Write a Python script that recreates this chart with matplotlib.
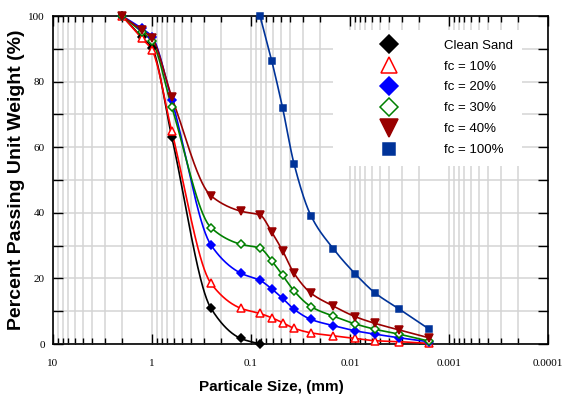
import numpy as np
import matplotlib
matplotlib.use("Agg")
import matplotlib.pyplot as plt
from matplotlib.transforms import ScaledTranslation

# sieve + hydrometer particle sizes (mm)
sizes_sieve = [2.0, 1.27, 1.0, 0.632, 0.254, 0.127, 0.081]
sizes_hydro = [0.0618, 0.0479, 0.0368, 0.0248, 0.0148, 0.0088, 0.0056, 0.0032, 0.0016]

clean_sand = [100, 93.5, 90.3, 63.2, 10.9, 1.7, 0.0]
fc10 = [100, 93.2, 89.6, 64.9, 18.5, 10.9, 9.3,
        8.0, 6.5, 4.8, 3.4, 2.5, 1.7, 1.0, 0.7, 0.2]
fc20 = [100, 96.2, 93.7, 74.4, 30.2, 21.6, 19.4,
        16.8, 13.9, 10.6, 7.5, 5.6, 4.0, 3.0, 1.9, 0.7]
fc30 = [100, 95.2, 92.3, 72.3, 35.5, 30.4, 29.2,
        25.4, 20.9, 16.2, 11.4, 8.5, 6.1, 4.5, 3.0, 0.9]
fc40 = [100, 95.7, 93.2, 75.4, 45.2, 40.5, 39.3,
        34.1, 28.4, 21.6, 15.5, 11.6, 8.3, 6.3, 4.3, 1.9]
fc100 = [100, 86.4, 71.9, 55.0, 39.1, 29.1, 21.3, 15.6, 10.7, 4.6]

labels = ["Clean Sand", "fc = 10%", "fc = 20%", "fc = 30%", "fc = 40%", "fc = 100%"]
xtick_vals = [10, 1, 0.1, 0.01, 0.001, 0.0001]
xtick_text = ["10", "1", "0.1", "0.01", "0.001", "0.0001"]
xtick_shift_px = [-4, -12, -20, -25, -34, -43]


def pchip(xk, yk, xs):
    # monotone cubic through the measured points (drawing only)
    xk = np.asarray(xk, float)
    yk = np.asarray(yk, float)
    h = np.diff(xk)
    d = np.diff(yk) / h
    m = np.zeros_like(yk)
    m[0], m[-1] = d[0], d[-1]
    for k in range(1, len(xk) - 1):
        if d[k - 1] * d[k] > 0:
            w1 = 2 * h[k] + h[k - 1]
            w2 = h[k] + 2 * h[k - 1]
            m[k] = (w1 + w2) / (w1 / d[k - 1] + w2 / d[k])
    idx = np.clip(np.searchsorted(xk, xs) - 1, 0, len(xk) - 2)
    t = (xs - xk[idx]) / h[idx]
    h00 = 2 * t**3 - 3 * t**2 + 1
    h10 = t**3 - 2 * t**2 + t
    h01 = -2 * t**3 + 3 * t**2
    h11 = t**3 - t**2
    return h00 * yk[idx] + h10 * h[idx] * m[idx] + h01 * yk[idx + 1] + h11 * h[idx] * m[idx + 1]


fig = plt.figure(figsize=(5.64, 3.99), dpi=100)
ax = fig.add_axes([53 / 564, 55 / 399, 495 / 564, 328 / 399])

all_sizes = sizes_sieve + sizes_hydro
series = [
    (sizes_sieve, clean_sand, "black", "D", "black", 4.5),
    (all_sizes, fc10, "#ff0000", "^", "white", 5.5),
    (all_sizes, fc20, "#0000ff", "D", "#0000ff", 4.5),
    (all_sizes, fc30, "#008000", "D", "white", 4.5),
    (all_sizes, fc40, "#990000", "v", "#990000", 6),
    ([0.081] + sizes_hydro, fc100, "#003399", "s", "#003399", 4.3),
]

for (xs, ys, col, mk, fc, ms), lab in zip(series, labels):
    u = -np.log10(xs)
    uu = np.linspace(u[0], u[-1], 300)
    ax.plot(10 ** (-uu), pchip(u, ys, uu), color=col, lw=1.2, clip_on=False, zorder=3)
    ax.plot(xs, ys, ls="none", marker=mk, ms=ms, mfc=fc, mec=col, mew=1.1,
            clip_on=False, zorder=4, label=lab)

ax.set_xscale("log")
ax.set_xlim(10, 0.0001)
ax.set_ylim(0, 100)

ax.set_xticks(xtick_vals)
ax.set_xticklabels(xtick_text, fontfamily="Liberation Serif", fontsize=8)
for lbl, dx in zip(ax.get_xticklabels(), xtick_shift_px):
    lbl.set_transform(lbl.get_transform() + ScaledTranslation(dx / 100, 0, fig.dpi_scale_trans))
ax.set_yticks(np.arange(0, 101, 10))
ax.set_yticklabels([str(v) if v % 20 == 0 else "" for v in range(0, 101, 10)],
                   fontfamily="Liberation Serif", fontsize=8)

ax.tick_params(which="both", direction="in", top=True, right=True, width=1)
ax.tick_params(which="major", length=7)
ax.tick_params(which="minor", length=4)
ax.tick_params(axis="x", pad=11)
ax.tick_params(axis="y", pad=6)

ax.set_axisbelow(True)
ax.grid(True, which="both", axis="x", color="#d4d4d4", lw=1.1)
ax.grid(True, which="major", axis="y", color="#d4d4d4", lw=1.1)
for sp in ax.spines.values():
    sp.set_linewidth(1.2)

ax.set_xlabel("Particale Size, (mm)", fontfamily="Liberation Sans", fontsize=11, fontweight="bold")
ax.xaxis.set_label_coords(0.442, -0.11)
ax.set_ylabel("Percent Passing Unit Weight (%)", fontfamily="Liberation Sans", fontsize=14,
              fontweight="bold")
ax.yaxis.set_label_coords(-0.056, 0.5)

leg = ax.legend(loc="upper left", bbox_to_anchor=(0.566, 0.957), frameon=True,
                fancybox=False, edgecolor="none", facecolor="white", framealpha=1,
                markerscale=2.1, handlelength=7, handletextpad=0.7, borderpad=0.7,
                labelspacing=0.66, borderaxespad=0,
                prop={"family": "Liberation Sans", "size": 9.5})

fig.savefig("out.png", dpi=100)
